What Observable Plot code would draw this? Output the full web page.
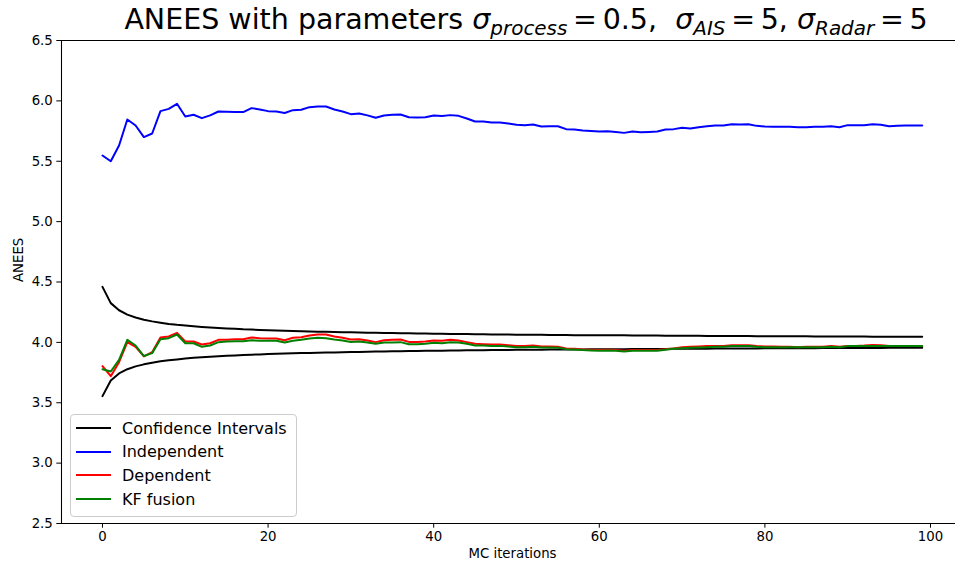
<!DOCTYPE html>
<html>
<head>
<meta charset="utf-8">
<script src="https://cdn.jsdelivr.net/npm/d3@7"></script>
<script src="https://cdn.jsdelivr.net/npm/@observablehq/plot@0.6"></script>
<style>
  html, body { margin: 0; padding: 0; background: #fff; }
  body { position: relative; width: 955px; height: 566px; overflow: hidden; font-family: "DejaVu Sans", sans-serif; }
  #title {
    position: absolute; left: 0; top: 6px; width: 1052px; text-align: center; z-index: 2;
    font-size: 28.5px; line-height: 28.5px; color: #000; white-space: nowrap;
  }
  #title i { font-style: italic; }
  #title .sub { font-size: 0.7em; font-style: italic; position: relative; top: 0.28em; }
  #title .eq { margin: 0 0.2em; }
  #chart { position: absolute; left: 0; top: 32px; z-index: 1; }
  #legend {
    position: absolute; left: 70px; top: 414px; width: 225px; height: 101px; z-index: 3;
    border: 1px solid #cccccc; border-radius: 4px; background: rgba(255,255,255,0.8);
    font-size: 16px; color: #000;
  }
  #legend .row { position: absolute; left: 0; height: 24px; display: flex; align-items: center; }
  #legend .swatch { width: 35px; height: 2px; margin-left: 5px; margin-right: 11px; }
</style>
</head>
<body>
<div id="title">ANEES with parameters <i>σ</i><span class="sub">process</span><span class="eq">=</span>0.5,&nbsp; <i>σ</i><span class="sub">AIS</span><span class="eq">=</span>5, <i>σ</i><span class="sub">Radar</span><span class="eq">=</span>5</div>
<div id="chart"></div>
<div id="legend"></div>
<script>
// Monte Carlo iteration index
const iterations = d3.range(100);

// 95% confidence bounds on the ANEES
const ciUpper = [
  4.460, 4.325, 4.266, 4.230, 4.206, 4.188, 4.174, 4.163, 4.153, 4.145,
  4.139, 4.133, 4.128, 4.123, 4.119, 4.115, 4.112, 4.108, 4.106, 4.103,
  4.100, 4.098, 4.096, 4.094, 4.092, 4.090, 4.089, 4.087, 4.085, 4.084,
  4.083, 4.081, 4.080, 4.079, 4.078, 4.077, 4.076, 4.075, 4.074, 4.073,
  4.072, 4.071, 4.070, 4.069, 4.069, 4.068, 4.067, 4.066, 4.066, 4.065,
  4.064, 4.064, 4.063, 4.063, 4.062, 4.061, 4.061, 4.060, 4.060, 4.059,
  4.059, 4.058, 4.058, 4.058, 4.057, 4.057, 4.056, 4.056, 4.055, 4.055,
  4.055, 4.054, 4.054, 4.053, 4.053, 4.053, 4.052, 4.052, 4.052, 4.051,
  4.051, 4.051, 4.051, 4.050, 4.050, 4.050, 4.049, 4.049, 4.049, 4.048,
  4.048, 4.048, 4.048, 4.047, 4.047, 4.047, 4.047, 4.046, 4.046, 4.046
];
const ciLower = [
  3.555, 3.685, 3.743, 3.778, 3.801, 3.818, 3.832, 3.843, 3.852, 3.859,
  3.866, 3.872, 3.877, 3.881, 3.885, 3.889, 3.892, 3.895, 3.898, 3.900,
  3.903, 3.905, 3.907, 3.909, 3.911, 3.913, 3.914, 3.916, 3.917, 3.919,
  3.920, 3.921, 3.923, 3.924, 3.925, 3.926, 3.927, 3.928, 3.929, 3.930,
  3.930, 3.931, 3.932, 3.933, 3.934, 3.934, 3.935, 3.936, 3.936, 3.937,
  3.938, 3.938, 3.939, 3.939, 3.940, 3.941, 3.941, 3.942, 3.942, 3.943,
  3.943, 3.943, 3.944, 3.944, 3.945, 3.945, 3.946, 3.946, 3.946, 3.947,
  3.947, 3.948, 3.948, 3.948, 3.949, 3.949, 3.949, 3.950, 3.950, 3.950,
  3.951, 3.951, 3.951, 3.951, 3.952, 3.952, 3.952, 3.953, 3.953, 3.953,
  3.953, 3.954, 3.954, 3.954, 3.954, 3.955, 3.955, 3.955, 3.955, 3.956
];

// ANEES of each estimator
const independent = [
  5.548, 5.500, 5.630, 5.846, 5.796, 5.700, 5.730, 5.915, 5.934, 5.976,
  5.870, 5.885, 5.857, 5.880, 5.912, 5.910, 5.907, 5.907, 5.940, 5.929,
  5.915, 5.912, 5.900, 5.923, 5.926, 5.948, 5.953, 5.953, 5.929, 5.912,
  5.890, 5.895, 5.880, 5.860, 5.879, 5.885, 5.887, 5.865, 5.862, 5.865,
  5.879, 5.874, 5.882, 5.876, 5.854, 5.829, 5.829, 5.821, 5.821, 5.813,
  5.802, 5.799, 5.804, 5.788, 5.790, 5.790, 5.766, 5.763, 5.755, 5.750,
  5.746, 5.749, 5.743, 5.735, 5.746, 5.740, 5.743, 5.746, 5.763, 5.766,
  5.777, 5.771, 5.782, 5.790, 5.796, 5.796, 5.807, 5.804, 5.807, 5.793,
  5.788, 5.785, 5.785, 5.785, 5.782, 5.782, 5.785, 5.785, 5.790, 5.782,
  5.799, 5.799, 5.799, 5.807, 5.802, 5.790, 5.793, 5.796, 5.796, 5.796
];
const dependent = [
  3.803, 3.720, 3.836, 4.002, 3.963, 3.884, 3.919, 4.040, 4.049, 4.079,
  4.007, 4.007, 3.982, 3.993, 4.021, 4.021, 4.026, 4.026, 4.040, 4.035,
  4.032, 4.032, 4.018, 4.038, 4.043, 4.057, 4.065, 4.065, 4.049, 4.038,
  4.024, 4.026, 4.016, 4.002, 4.018, 4.021, 4.024, 4.004, 4.004, 4.007,
  4.016, 4.013, 4.021, 4.016, 4.002, 3.988, 3.985, 3.982, 3.982, 3.977,
  3.971, 3.971, 3.974, 3.966, 3.966, 3.963, 3.949, 3.947, 3.941, 3.938,
  3.936, 3.938, 3.936, 3.930, 3.936, 3.936, 3.936, 3.936, 3.944, 3.949,
  3.960, 3.963, 3.966, 3.969, 3.971, 3.971, 3.977, 3.977, 3.977, 3.969,
  3.966, 3.966, 3.963, 3.963, 3.960, 3.963, 3.963, 3.963, 3.969, 3.963,
  3.971, 3.971, 3.974, 3.979, 3.977, 3.971, 3.971, 3.971, 3.971, 3.971
];
const kfFusion = [
  3.778, 3.759, 3.855, 4.021, 3.974, 3.887, 3.911, 4.026, 4.035, 4.065,
  3.993, 3.993, 3.963, 3.974, 4.002, 4.007, 4.010, 4.010, 4.018, 4.013,
  4.013, 4.013, 3.999, 4.013, 4.021, 4.032, 4.038, 4.035, 4.024, 4.016,
  4.004, 4.007, 3.999, 3.988, 3.999, 3.999, 4.002, 3.985, 3.985, 3.988,
  3.996, 3.993, 4.002, 3.999, 3.988, 3.974, 3.974, 3.971, 3.971, 3.966,
  3.960, 3.960, 3.963, 3.958, 3.958, 3.955, 3.944, 3.941, 3.936, 3.933,
  3.930, 3.933, 3.930, 3.925, 3.930, 3.930, 3.930, 3.930, 3.938, 3.947,
  3.952, 3.955, 3.958, 3.960, 3.963, 3.963, 3.969, 3.969, 3.969, 3.963,
  3.960, 3.960, 3.960, 3.960, 3.960, 3.960, 3.960, 3.960, 3.963, 3.960,
  3.969, 3.969, 3.969, 3.971, 3.971, 3.969, 3.969, 3.969, 3.969, 3.969
];

const xTicks = [0, 20, 40, 60, 80, 100];
const yTicks = [2.5, 3.0, 3.5, 4.0, 4.5, 5.0, 5.5, 6.0, 6.5];

const legendLabels = ["Confidence Intervals", "Independent", "Dependent", "KF fusion"];
const legendColors = ["#000000", "#0000ff", "#ff0000", "#008000"];

const rows = (values) => iterations.map((i) => ({iteration: i, anees: values[i]}));

const line = (values, color) =>
  Plot.line(rows(values), {x: "iteration", y: "anees", stroke: color, strokeWidth: 2});

const chart = Plot.plot({
  width: 955,
  height: 534,
  marginTop: 8,
  marginBottom: 43,
  marginLeft: 61,
  marginRight: 0,
  style: {fontFamily: "DejaVu Sans", fontSize: "13.3px", color: "#000", background: "transparent"},
  x: {domain: [-4.95, 103.95], range: [61, 962.7]},
  y: {domain: [2.5, 6.5]},
  marks: [
    line(ciUpper, legendColors[0]),
    line(ciLower, legendColors[0]),
    line(independent, legendColors[1]),
    line(dependent, legendColors[2]),
    line(kfFusion, legendColors[3]),
    Plot.ruleY([2.5, 6.5], {stroke: "#000", strokeWidth: 1.07}),
    Plot.ruleX([-4.95], {stroke: "#000", strokeWidth: 1.07}),
    Plot.axisX({ticks: xTicks, tickSize: 4.7, tickPadding: 3, label: null, fontSize: 13.3}),
    Plot.axisY({ticks: yTicks, tickSize: 4.7, tickPadding: 4, tickFormat: d3.format(".1f"), label: null, fontSize: 13.3}),
    Plot.text(["ANEES"], {frameAnchor: "left", dx: -43, rotate: -90, fontSize: 13.3, text: (d) => d}),
    Plot.text(["MC iterations"], {frameAnchor: "bottom", dx: 4, dy: 34, fontSize: 13.3, text: (d) => d})
  ]
});
document.getElementById("chart").appendChild(chart);

const legend = document.getElementById("legend");
legendLabels.forEach((label, k) => {
  const row = document.createElement("div");
  row.className = "row";
  row.style.top = (1 + k * 23.7) + "px";
  const sw = document.createElement("span");
  sw.className = "swatch";
  sw.style.background = legendColors[k];
  const tx = document.createElement("span");
  tx.textContent = label;
  row.appendChild(sw);
  row.appendChild(tx);
  legend.appendChild(row);
});
</script>
</body>
</html>
